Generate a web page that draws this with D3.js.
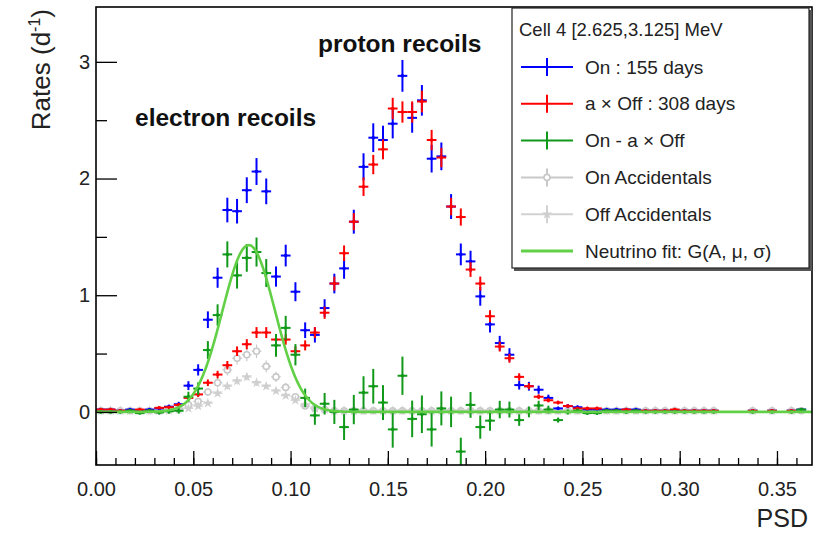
<!DOCTYPE html>
<html>
<head>
<meta charset="utf-8">
<script src="https://cdn.jsdelivr.net/npm/d3@7"></script>
<style>
  body { margin: 0; background: #fff; }
  text { font-family: "Liberation Sans", Arial, sans-serif; }
</style>
</head>
<body>
<div id="chart"></div>
<script>
//constants
const width = 823,
  height = 533,
  frame = { left: 96, right: 812, top: 7, bottom: 465 };

// binning of the PSD histogram (bin width 0.005, 73 bins)
const binWidth = 0.005;
const binCenters = d3.range(73).map(i => binWidth / 2 + i * binWidth);

// live days
const onDays = 155, offDays = 308;

// rates (d^-1) read per bin, null = empty bin
const onRates = [
  0.02, 0.02, 0.01, 0.02, 0.01, 0.02, 0.03, 0.045, 0.066,
  0.225, 0.36, 0.79, 1.15, 1.73, 1.72, 1.90, 2.06, 1.89,
  1.16, 1.34, 1.03, 0.70, 0.66, 0.89, 1.10, 1.23, 1.63,
  2.10, 2.35, 2.33, 2.47, 2.88, 2.52, 2.67, 2.17, 2.19,
  1.76, 1.35, 1.29, 0.99, 0.75, 0.59, 0.49, 0.23, 0.22,
  0.19, 0.12, 0.03, 0.05, 0.04, 0.02, 0.02, 0.02, 0.02,
  0.02, 0.02, 0.01, 0.01, 0.01, 0.01, 0.01, 0.01, 0.01, 0.01,
  null, null, null, 0.01, null, 0.01, null, 0.01, 0.02
];
const offRates = [
  0.02, 0.02, 0.01, 0.01, 0.02, 0.01, 0.035, 0.04, 0.06,
  0.12, 0.15, 0.25, 0.32, 0.40, 0.52, 0.58, 0.68, 0.68,
  0.62, 0.62, 0.52, 0.57, 0.68, 0.85, 1.10, 1.36, 1.63,
  1.93, 2.12, 2.25, 2.60, 2.57, 2.57, 2.66, 2.33, 2.18,
  1.76, 1.67, 1.22, 1.10, 0.82, 0.56, 0.46, 0.30, 0.22,
  0.13, 0.10, 0.08, 0.05, 0.03, 0.03, 0.03, 0.01, 0.01,
  0.02, 0.01, 0.01, 0.01, 0.01, 0.02, 0.01, 0.01, 0.01, 0.01,
  null, null, null, 0.01, null, 0.01, null, 0.01, null
];
const diffRates = [
  0.00, 0.00, 0.00, 0.01, -0.01, 0.01, -0.005, 0.005, 0.01,
  0.13, 0.20, 0.53, 0.83, 1.35, 1.17, 1.32, 1.37, 1.19,
  0.57, 0.72, 0.49, 0.12, -0.03, 0.07, 0.00, -0.13, 0.02,
  0.165, 0.22, 0.08, -0.15, 0.31, -0.06, -0.02, -0.15, 0.03,
  0.00, -0.34, 0.06, -0.13, -0.075, 0.02, 0.02, -0.07, 0.00,
  0.055, 0.02, -0.07, 0.00, 0.01, -0.01, -0.01, 0.01, 0.01,
  0.00, 0.01, 0.00, 0.00, 0.00, 0.00, 0.00, 0.00, 0.00, 0.00,
  null, null, null, 0.00, null, 0.00, null, 0.00, 0.02
];
const onAccRates = [
  0.01, 0.01, 0.01, 0.01, 0.01, 0.01, 0.01, 0.02, 0.03,
  0.06, 0.09, 0.17, 0.25, 0.36, 0.46, 0.49, 0.52, 0.39,
  0.30, 0.21, 0.13, 0.05, 0.03, 0.02, 0.01, 0.01, 0.01,
  0.01, 0.01, 0.01, 0.01, 0.01, 0.01, 0.01, 0.01, 0.01,
  0.01, 0.01, 0.01, 0.01, 0.01, 0.01, 0.01, 0.01, 0.01,
  0.01, 0.01, 0.01, 0.01, 0.01, 0.01, 0.01, 0.01, 0.01,
  0.01, 0.01, 0.01, 0.01, 0.01, 0.01, 0.01, 0.01, 0.01, 0.01,
  null, null, null, 0.01, null, 0.01, null, 0.01, 0.01
];
const offAccRates = [
  0.01, 0.01, 0.01, 0.01, 0.01, 0.01, 0.01, 0.01, 0.02,
  0.03, 0.05, 0.075, 0.16, 0.22, 0.265, 0.30, 0.25, 0.22,
  0.18, 0.14, 0.10, 0.06, 0.03, 0.02, 0.01, 0.01, 0.01,
  0.01, 0.01, 0.01, 0.01, 0.01, 0.01, 0.01, 0.01, 0.01,
  0.01, 0.01, 0.01, 0.01, 0.01, 0.01, 0.01, 0.01, 0.01,
  0.01, 0.01, 0.01, 0.01, 0.01, 0.01, 0.01, 0.01, 0.01,
  0.01, 0.01, 0.01, 0.01, 0.01, 0.01, 0.01, 0.01, 0.01, 0.01,
  null, null, null, 0.01, null, 0.01, null, 0.01, null
];

// neutrino gaussian fit parameters G(A, mu, sigma)
const fitA = 1.43, fitMu = 0.0785, fitSigma = 0.0135;

const xTicks = [0, 0.05, 0.10, 0.15, 0.20, 0.25, 0.30, 0.35];
const yTicks = [0, 1, 2, 3];

const legendHeader = "Cell 4 [2.625,3.125] MeV";
const legendLabels = ["On : 155 days", "a \u00d7 Off : 308 days", "On - a \u00d7 Off",
  "On Accidentals", "Off Accidentals", "Neutrino fit: G(A, \u03bc, \u03c3)"];

const blue = "#0000ff", red = "#ff0000", green = "#11991a",
  grey = "#c8c8c8", fitGreen = "#62d046";

let svg;

init();

function init() {
  const x = d3.scaleLinear().domain([0, 0.368]).range([frame.left, frame.right]);
  const y = d3.scaleLinear().domain([-0.455, 3.47]).range([frame.bottom, frame.top]);

  svg = d3.select("#chart")
    .append("svg")
    .attr("width", width)
    .attr("height", height);

  svg.append("defs").append("clipPath").attr("id", "clip")
    .append("rect")
    .attr("x", frame.left).attr("y", frame.top)
    .attr("width", frame.right - frame.left)
    .attr("height", frame.bottom - frame.top);

  const plot = svg.append("g").attr("clip-path", "url(#clip)");

  // build bin records for a series
  const bins = (vals, errFn) => binCenters
    .map((c, i) => ({ x: c, v: vals[i], e: vals[i] == null ? 0 : errFn(i) }))
    .filter(d => d.v != null);

  const onErr = i => Math.sqrt(Math.max(onRates[i] || 0, 0) / onDays);
  const offErr = i => Math.sqrt(Math.max(offRates[i] || 0, 0) / offDays);

  const seriesOn = bins(onRates, onErr);
  const seriesOff = bins(offRates, offErr);
  const seriesDiff = bins(diffRates, i => Math.hypot(onErr(i), offErr(i)));
  const seriesOnAcc = bins(onAccRates, i => Math.sqrt(onAccRates[i] / onDays));
  const seriesOffAcc = bins(offAccRates, i => Math.sqrt(offAccRates[i] / offDays));

  function drawErrors(data, color, lw) {
    const g = plot.append("g").attr("stroke", color).attr("stroke-width", lw);
    g.selectAll(".h").data(data).join("line")
      .attr("x1", d => x(d.x - binWidth / 2)).attr("x2", d => x(d.x + binWidth / 2))
      .attr("y1", d => y(d.v)).attr("y2", d => y(d.v));
    g.selectAll(".v").data(data).join("line")
      .attr("x1", d => x(d.x)).attr("x2", d => x(d.x))
      .attr("y1", d => y(d.v - d.e)).attr("y2", d => y(d.v + d.e));
    return g;
  }

  // accidentals (grey)
  drawErrors(seriesOnAcc, grey, 1.2);
  plot.append("g").selectAll("circle").data(seriesOnAcc).join("circle")
    .attr("cx", d => x(d.x)).attr("cy", d => y(d.v)).attr("r", 3)
    .attr("fill", "white").attr("stroke", grey).attr("stroke-width", 1.6);
  drawErrors(seriesOffAcc, "#d2d2d2", 1.2);
  plot.append("g").selectAll("path").data(seriesOffAcc).join("path")
    .attr("d", d3.symbol(d3.symbolStar, 34))
    .attr("transform", d => `translate(${x(d.x)},${y(d.v)})`)
    .attr("fill", "#cfcfcf");

  // on, a x off, difference
  [[seriesOn, blue], [seriesOff, red], [seriesDiff, green]].forEach(([s, c]) => {
    drawErrors(s, c, 2);
    plot.append("g").selectAll("circle").data(s).join("circle")
      .attr("cx", d => x(d.x)).attr("cy", d => y(d.v)).attr("r", 1.8)
      .attr("fill", c);
  });

  // gaussian fit curve
  const fitX = d3.range(0, 0.3681, 0.0005);
  const gauss = t => fitA * Math.exp(-0.5 * ((t - fitMu) / fitSigma) ** 2);
  plot.append("path")
    .datum(fitX)
    .attr("fill", "none")
    .attr("stroke", fitGreen)
    .attr("stroke-width", 2.6)
    .attr("d", d3.line().x(t => x(t)).y(t => y(gauss(t))));

  // axes
  const xAxis = d3.axisBottom(x).tickValues(xTicks).tickSize(-14).tickPadding(17)
    .tickFormat(d3.format(".2f"));
  const xMinor = d3.axisBottom(x).tickValues(d3.range(0, 0.3681, 0.01)).tickSize(-7).tickFormat("");
  const yAxis = d3.axisLeft(y).tickValues(yTicks).tickSize(-21).tickPadding(6)
    .tickFormat(d3.format("d"));
  const yMinor = d3.axisLeft(y).tickValues([0.5, 1.5, 2.5]).tickSize(-11).tickFormat("");

  [[xMinor, `translate(0,${frame.bottom})`], [xAxis, `translate(0,${frame.bottom})`],
   [yMinor, `translate(${frame.left},0)`], [yAxis, `translate(${frame.left},0)`]]
    .forEach(([ax, tr]) => {
      const g = svg.append("g").attr("transform", tr).call(ax);
      g.select(".domain").remove();
      g.selectAll("line").attr("stroke", "#000").attr("stroke-width", 1.3);
      g.selectAll("text").attr("font-size", 20).attr("fill", "#222")
        .attr("font-family", "Liberation Sans, Arial, sans-serif");
    });

  // frame
  svg.append("rect")
    .attr("x", frame.left).attr("y", frame.top)
    .attr("width", frame.right - frame.left).attr("height", frame.bottom - frame.top)
    .attr("fill", "none").attr("stroke", "#000").attr("stroke-width", 1.6);

  // axis titles
  svg.append("text")
    .attr("transform", `translate(50,${frame.top + 2}) rotate(-90)`)
    .attr("text-anchor", "end")
    .attr("font-size", 26)
    .attr("fill", "#222")
    .call(t => {
      t.append("tspan").text("Rates (d");
      t.append("tspan").attr("font-size", 16).attr("dy", -10).text("-1");
      t.append("tspan").attr("dy", 10).text(")");
    });
  svg.append("text")
    .attr("x", 808).attr("y", 527)
    .attr("text-anchor", "end")
    .attr("font-size", 25)
    .attr("fill", "#222")
    .text("PSD");

  // annotations
  svg.append("text").attr("x", 135).attr("y", 126)
    .attr("font-size", 24.5).attr("font-weight", "bold").attr("fill", "#111")
    .text("electron recoils");
  svg.append("text").attr("x", 318).attr("y", 52)
    .attr("font-size", 24.5).attr("font-weight", "bold").attr("fill", "#111")
    .text("proton recoils");

  // legend
  const lg = svg.append("g");
  lg.append("rect").attr("x", 514).attr("y", 10).attr("width", 298).attr("height", 261)
    .attr("fill", "#555");
  lg.append("rect").attr("x", 512).attr("y", 8).attr("width", 297).attr("height", 260)
    .attr("fill", "white").attr("stroke", "#222").attr("stroke-width", 1.2);
  lg.append("text").attr("x", 519).attr("y", 36)
    .attr("font-size", 18.5).attr("fill", "#222").text(legendHeader);

  const entryY = d3.scalePoint().domain(legendLabels).range([67, 251]);
  const entryStyle = [
    { c: blue, m: "dot" }, { c: red, m: "dot" }, { c: green, m: "dot" },
    { c: grey, m: "circle" }, { c: "#d2d2d2", m: "star" }, { c: fitGreen, m: "line" }
  ];
  legendLabels.forEach((lab, i) => {
    const cy = entryY(lab), st = entryStyle[i];
    const g = lg.append("g");
    g.append("line").attr("x1", 521).attr("x2", 573).attr("y1", cy).attr("y2", cy)
      .attr("stroke", st.c).attr("stroke-width", st.m === "line" ? 3 : 2);
    if (st.m !== "line") {
      g.append("line").attr("x1", 547).attr("x2", 547).attr("y1", cy - 9).attr("y2", cy + 9)
        .attr("stroke", st.c).attr("stroke-width", 2);
    }
    if (st.m === "circle") {
      g.append("circle").attr("cx", 547).attr("cy", cy).attr("r", 3)
        .attr("fill", "white").attr("stroke", st.c).attr("stroke-width", 1.6);
    } else if (st.m === "star") {
      g.append("path").attr("d", d3.symbol(d3.symbolStar, 34))
        .attr("transform", `translate(547,${cy})`).attr("fill", "#cfcfcf");
    }
    g.append("text").attr("x", 585).attr("y", cy + 6.5)
      .attr("font-size", 19).attr("fill", "#222").text(lab);
  });
}
</script>
</body>
</html>
